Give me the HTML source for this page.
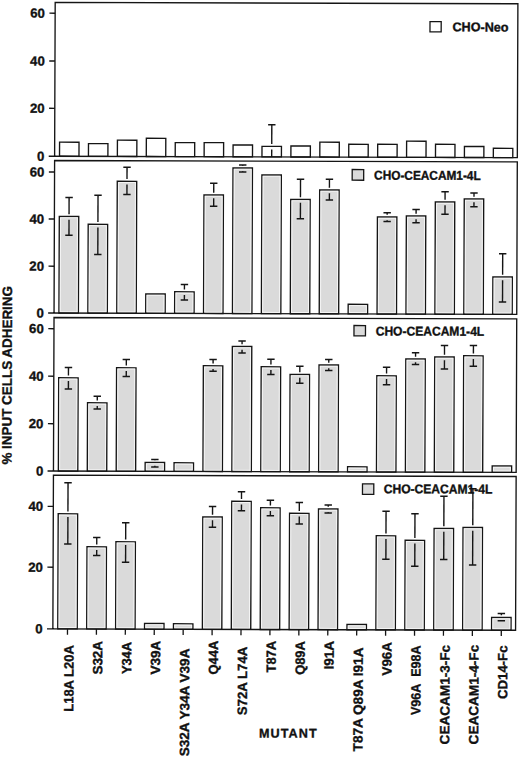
<!DOCTYPE html><html><head><meta charset="utf-8"><style>html,body{margin:0;padding:0;background:#fff;}svg{display:block;}text{font-family:"Liberation Sans",sans-serif;font-weight:bold;fill:#111;stroke:#111;stroke-width:0.35px;}</style></head><body>
<svg width="520" height="758" viewBox="0 0 520 758">
<rect width="520" height="758" fill="#fff"/>
<g transform="matrix(1,0.003,-0.0037,1,0,-0.165)">
<rect x="60.1" y="142.16" width="19.45" height="14.09" fill="#ffffff" stroke="#151515" stroke-width="1.35"/>
<rect x="89.02" y="143.47" width="19.45" height="12.78" fill="#ffffff" stroke="#151515" stroke-width="1.35"/>
<rect x="117.94" y="139.98" width="19.45" height="16.27" fill="#ffffff" stroke="#151515" stroke-width="1.35"/>
<rect x="146.86" y="138" width="19.45" height="18.25" fill="#ffffff" stroke="#151515" stroke-width="1.35"/>
<rect x="175.78" y="142.21" width="19.45" height="14.04" fill="#ffffff" stroke="#151515" stroke-width="1.35"/>
<rect x="204.7" y="142.12" width="19.45" height="14.13" fill="#ffffff" stroke="#151515" stroke-width="1.35"/>
<rect x="233.62" y="144.43" width="19.45" height="11.82" fill="#ffffff" stroke="#151515" stroke-width="1.35"/>
<rect x="262.54" y="145.75" width="19.45" height="10.5" fill="#ffffff" stroke="#151515" stroke-width="1.35"/>
<line x1="272.27" y1="124.15" x2="272.27" y2="143.45" stroke="#151515" stroke-width="1.4"/>
<line x1="272.27" y1="148.95" x2="272.27" y2="156.25" stroke="#151515" stroke-width="1.4"/>
<line x1="268.57" y1="124.15" x2="275.97" y2="124.15" stroke="#151515" stroke-width="1.5"/>
<rect x="291.46" y="145.26" width="19.45" height="10.99" fill="#ffffff" stroke="#151515" stroke-width="1.35"/>
<rect x="320.38" y="141.37" width="19.45" height="14.88" fill="#ffffff" stroke="#151515" stroke-width="1.35"/>
<rect x="349.3" y="143.39" width="19.45" height="12.86" fill="#ffffff" stroke="#151515" stroke-width="1.35"/>
<rect x="378.22" y="143.3" width="19.45" height="12.95" fill="#ffffff" stroke="#151515" stroke-width="1.35"/>
<rect x="407.14" y="140.11" width="19.45" height="16.14" fill="#ffffff" stroke="#151515" stroke-width="1.35"/>
<rect x="436.06" y="143.13" width="19.45" height="13.12" fill="#ffffff" stroke="#151515" stroke-width="1.35"/>
<rect x="464.98" y="145.24" width="19.45" height="11.01" fill="#ffffff" stroke="#151515" stroke-width="1.35"/>
<rect x="493.9" y="146.95" width="19.45" height="9.3" fill="#ffffff" stroke="#151515" stroke-width="1.35"/>
<path d="M49.3 156.25 H517.9 V2.4 H55.2 V156.25" fill="none" stroke="#151515" stroke-width="1.35" stroke-linejoin="miter"/>
<line x1="49.5" y1="13.2" x2="55.2" y2="13.2" stroke="#151515" stroke-width="1.35"/>
<text x="45.0" y="17.7" font-size="13.2" text-anchor="end">60</text>
<line x1="49.5" y1="61" x2="55.2" y2="61" stroke="#151515" stroke-width="1.35"/>
<text x="45.0" y="65.5" font-size="13.2" text-anchor="end">40</text>
<line x1="49.5" y1="108.3" x2="55.2" y2="108.3" stroke="#151515" stroke-width="1.35"/>
<text x="45.0" y="112.8" font-size="13.2" text-anchor="end">20</text>
<text x="45.0" y="160.75" font-size="13.2" text-anchor="end">0</text>
<rect x="430.08" y="20.48" width="11.2" height="10.2" fill="#ffffff" stroke="#151515" stroke-width="1.3"/>
<text x="452.62" y="30.11" font-size="12.7" textLength="56" lengthAdjust="spacingAndGlyphs">CHO-Neo</text>
<rect x="60.1" y="216.46" width="19.45" height="96.54" fill="#dadada" stroke="#151515" stroke-width="1.35"/>
<rect x="61.4" y="217.76" width="16.85" height="93.94" fill="none" stroke="#f4f4f4" stroke-width="1"/>
<line x1="69.83" y1="197.46" x2="69.83" y2="214.16" stroke="#151515" stroke-width="1.4"/>
<line x1="69.83" y1="219.66" x2="69.83" y2="235.26" stroke="#151515" stroke-width="1.4"/>
<line x1="66.12" y1="197.46" x2="73.53" y2="197.46" stroke="#151515" stroke-width="1.5"/>
<line x1="66.12" y1="235.26" x2="73.53" y2="235.26" stroke="#151515" stroke-width="1.5"/>
<rect x="89.02" y="224.17" width="19.45" height="88.83" fill="#dadada" stroke="#151515" stroke-width="1.35"/>
<rect x="90.32" y="225.47" width="16.85" height="86.23" fill="none" stroke="#f4f4f4" stroke-width="1"/>
<line x1="98.75" y1="195.17" x2="98.75" y2="221.87" stroke="#151515" stroke-width="1.4"/>
<line x1="98.75" y1="227.37" x2="98.75" y2="254.37" stroke="#151515" stroke-width="1.4"/>
<line x1="95.05" y1="195.17" x2="102.45" y2="195.17" stroke="#151515" stroke-width="1.5"/>
<line x1="95.05" y1="254.37" x2="102.45" y2="254.37" stroke="#151515" stroke-width="1.5"/>
<rect x="117.94" y="181.08" width="19.45" height="131.92" fill="#dadada" stroke="#151515" stroke-width="1.35"/>
<rect x="119.24" y="182.38" width="16.85" height="129.32" fill="none" stroke="#f4f4f4" stroke-width="1"/>
<line x1="127.66" y1="167.08" x2="127.66" y2="178.78" stroke="#151515" stroke-width="1.4"/>
<line x1="127.66" y1="184.28" x2="127.66" y2="194.28" stroke="#151515" stroke-width="1.4"/>
<line x1="123.96" y1="167.08" x2="131.36" y2="167.08" stroke="#151515" stroke-width="1.5"/>
<line x1="123.96" y1="194.28" x2="131.36" y2="194.28" stroke="#151515" stroke-width="1.5"/>
<rect x="146.86" y="293.7" width="19.45" height="19.3" fill="#dadada" stroke="#151515" stroke-width="1.35"/>
<rect x="148.16" y="295" width="16.85" height="16.7" fill="none" stroke="#f4f4f4" stroke-width="1"/>
<rect x="175.78" y="291.41" width="19.45" height="21.59" fill="#dadada" stroke="#151515" stroke-width="1.35"/>
<rect x="177.08" y="292.71" width="16.85" height="18.99" fill="none" stroke="#f4f4f4" stroke-width="1"/>
<line x1="185.5" y1="284.11" x2="185.5" y2="289.11" stroke="#151515" stroke-width="1.4"/>
<line x1="185.5" y1="294.61" x2="185.5" y2="299.61" stroke="#151515" stroke-width="1.4"/>
<line x1="181.81" y1="284.11" x2="189.2" y2="284.11" stroke="#151515" stroke-width="1.5"/>
<line x1="181.81" y1="299.61" x2="189.2" y2="299.61" stroke="#151515" stroke-width="1.5"/>
<rect x="204.7" y="194.52" width="19.45" height="118.48" fill="#dadada" stroke="#151515" stroke-width="1.35"/>
<rect x="206" y="195.82" width="16.85" height="115.88" fill="none" stroke="#f4f4f4" stroke-width="1"/>
<line x1="214.43" y1="182.82" x2="214.43" y2="192.22" stroke="#151515" stroke-width="1.4"/>
<line x1="214.43" y1="197.72" x2="214.43" y2="205.82" stroke="#151515" stroke-width="1.4"/>
<line x1="210.73" y1="182.82" x2="218.12" y2="182.82" stroke="#151515" stroke-width="1.5"/>
<line x1="210.73" y1="205.82" x2="218.12" y2="205.82" stroke="#151515" stroke-width="1.5"/>
<rect x="233.62" y="167.43" width="19.45" height="145.57" fill="#dadada" stroke="#151515" stroke-width="1.35"/>
<rect x="234.92" y="168.73" width="16.85" height="142.97" fill="none" stroke="#f4f4f4" stroke-width="1"/>
<line x1="243.34" y1="164.43" x2="243.34" y2="165.13" stroke="#151515" stroke-width="1.4"/>
<line x1="243.34" y1="170.63" x2="243.34" y2="171.43" stroke="#151515" stroke-width="1.4"/>
<line x1="239.65" y1="164.43" x2="247.04" y2="164.43" stroke="#151515" stroke-width="1.5"/>
<line x1="239.65" y1="171.43" x2="247.04" y2="171.43" stroke="#151515" stroke-width="1.5"/>
<rect x="262.54" y="174.35" width="19.45" height="138.65" fill="#dadada" stroke="#151515" stroke-width="1.35"/>
<rect x="263.84" y="175.65" width="16.85" height="136.05" fill="none" stroke="#f4f4f4" stroke-width="1"/>
<rect x="291.46" y="198.76" width="19.45" height="114.24" fill="#dadada" stroke="#151515" stroke-width="1.35"/>
<rect x="292.76" y="200.06" width="16.85" height="111.64" fill="none" stroke="#f4f4f4" stroke-width="1"/>
<line x1="301.19" y1="178.56" x2="301.19" y2="196.46" stroke="#151515" stroke-width="1.4"/>
<line x1="301.19" y1="201.96" x2="301.19" y2="218.06" stroke="#151515" stroke-width="1.4"/>
<line x1="297.49" y1="178.56" x2="304.89" y2="178.56" stroke="#151515" stroke-width="1.5"/>
<line x1="297.49" y1="218.06" x2="304.89" y2="218.06" stroke="#151515" stroke-width="1.5"/>
<rect x="320.38" y="189.17" width="19.45" height="123.83" fill="#dadada" stroke="#151515" stroke-width="1.35"/>
<rect x="321.68" y="190.47" width="16.85" height="121.23" fill="none" stroke="#f4f4f4" stroke-width="1"/>
<line x1="330.11" y1="178.47" x2="330.11" y2="186.87" stroke="#151515" stroke-width="1.4"/>
<line x1="330.11" y1="192.37" x2="330.11" y2="199.17" stroke="#151515" stroke-width="1.4"/>
<line x1="326.41" y1="178.47" x2="333.81" y2="178.47" stroke="#151515" stroke-width="1.5"/>
<line x1="326.41" y1="199.17" x2="333.81" y2="199.17" stroke="#151515" stroke-width="1.5"/>
<rect x="349.3" y="303.39" width="19.45" height="9.61" fill="#dadada" stroke="#151515" stroke-width="1.35"/>
<rect x="350.6" y="304.69" width="16.85" height="7.01" fill="none" stroke="#f4f4f4" stroke-width="1"/>
<rect x="378.22" y="216" width="19.45" height="97" fill="#dadada" stroke="#151515" stroke-width="1.35"/>
<rect x="379.52" y="217.3" width="16.85" height="94.4" fill="none" stroke="#f4f4f4" stroke-width="1"/>
<line x1="387.95" y1="211.8" x2="387.95" y2="213.7" stroke="#151515" stroke-width="1.4"/>
<line x1="387.95" y1="219.2" x2="387.95" y2="220.5" stroke="#151515" stroke-width="1.4"/>
<line x1="384.25" y1="211.8" x2="391.65" y2="211.8" stroke="#151515" stroke-width="1.5"/>
<line x1="384.25" y1="220.5" x2="391.65" y2="220.5" stroke="#151515" stroke-width="1.5"/>
<rect x="407.14" y="214.91" width="19.45" height="98.09" fill="#dadada" stroke="#151515" stroke-width="1.35"/>
<rect x="408.44" y="216.21" width="16.85" height="95.49" fill="none" stroke="#f4f4f4" stroke-width="1"/>
<line x1="416.87" y1="208.41" x2="416.87" y2="212.61" stroke="#151515" stroke-width="1.4"/>
<line x1="416.87" y1="218.11" x2="416.87" y2="221.71" stroke="#151515" stroke-width="1.4"/>
<line x1="413.17" y1="208.41" x2="420.57" y2="208.41" stroke="#151515" stroke-width="1.5"/>
<line x1="413.17" y1="221.71" x2="420.57" y2="221.71" stroke="#151515" stroke-width="1.5"/>
<rect x="436.06" y="200.83" width="19.45" height="112.17" fill="#dadada" stroke="#151515" stroke-width="1.35"/>
<rect x="437.36" y="202.13" width="16.85" height="109.57" fill="none" stroke="#f4f4f4" stroke-width="1"/>
<line x1="445.79" y1="190.63" x2="445.79" y2="198.53" stroke="#151515" stroke-width="1.4"/>
<line x1="445.79" y1="204.03" x2="445.79" y2="213.13" stroke="#151515" stroke-width="1.4"/>
<line x1="442.09" y1="190.63" x2="449.49" y2="190.63" stroke="#151515" stroke-width="1.5"/>
<line x1="442.09" y1="213.13" x2="449.49" y2="213.13" stroke="#151515" stroke-width="1.5"/>
<rect x="464.98" y="197.74" width="19.45" height="115.26" fill="#dadada" stroke="#151515" stroke-width="1.35"/>
<rect x="466.28" y="199.04" width="16.85" height="112.66" fill="none" stroke="#f4f4f4" stroke-width="1"/>
<line x1="474.71" y1="191.74" x2="474.71" y2="195.44" stroke="#151515" stroke-width="1.4"/>
<line x1="474.71" y1="200.94" x2="474.71" y2="205.54" stroke="#151515" stroke-width="1.4"/>
<line x1="471.01" y1="191.74" x2="478.41" y2="191.74" stroke="#151515" stroke-width="1.5"/>
<line x1="471.01" y1="205.54" x2="478.41" y2="205.54" stroke="#151515" stroke-width="1.5"/>
<rect x="493.9" y="275.65" width="19.45" height="37.35" fill="#dadada" stroke="#151515" stroke-width="1.35"/>
<rect x="495.2" y="276.95" width="16.85" height="34.75" fill="none" stroke="#f4f4f4" stroke-width="1"/>
<line x1="503.63" y1="252.45" x2="503.63" y2="273.35" stroke="#151515" stroke-width="1.4"/>
<line x1="503.63" y1="278.85" x2="503.63" y2="300.65" stroke="#151515" stroke-width="1.4"/>
<line x1="499.93" y1="252.45" x2="507.33" y2="252.45" stroke="#151515" stroke-width="1.5"/>
<line x1="499.93" y1="300.65" x2="507.33" y2="300.65" stroke="#151515" stroke-width="1.5"/>
<path d="M49.3 313 H517.9 V160.5 H55.2 V313" fill="none" stroke="#151515" stroke-width="1.35" stroke-linejoin="miter"/>
<line x1="49.5" y1="172" x2="55.2" y2="172" stroke="#151515" stroke-width="1.35"/>
<text x="45.0" y="176.5" font-size="13.2" text-anchor="end">60</text>
<line x1="49.5" y1="219" x2="55.2" y2="219" stroke="#151515" stroke-width="1.35"/>
<text x="45.0" y="223.5" font-size="13.2" text-anchor="end">40</text>
<line x1="49.5" y1="266.2" x2="55.2" y2="266.2" stroke="#151515" stroke-width="1.35"/>
<text x="45.0" y="270.7" font-size="13.2" text-anchor="end">20</text>
<text x="45.0" y="317.5" font-size="13.2" text-anchor="end">0</text>
<rect x="352.83" y="168.61" width="11.5" height="10.7" fill="#dadada" stroke="#151515" stroke-width="1.3"/>
<text x="374.76" y="178.64" font-size="12.7" textLength="106.6" lengthAdjust="spacingAndGlyphs">CHO-CEACAM1-4L</text>
<rect x="60.1" y="377.76" width="19.45" height="93.24" fill="#dadada" stroke="#151515" stroke-width="1.35"/>
<rect x="61.4" y="379.06" width="16.85" height="90.64" fill="none" stroke="#f4f4f4" stroke-width="1"/>
<line x1="69.83" y1="367.46" x2="69.83" y2="375.46" stroke="#151515" stroke-width="1.4"/>
<line x1="69.83" y1="380.96" x2="69.83" y2="388.96" stroke="#151515" stroke-width="1.4"/>
<line x1="66.12" y1="367.46" x2="73.53" y2="367.46" stroke="#151515" stroke-width="1.5"/>
<line x1="66.12" y1="388.96" x2="73.53" y2="388.96" stroke="#151515" stroke-width="1.5"/>
<rect x="89.02" y="402.67" width="19.45" height="68.33" fill="#dadada" stroke="#151515" stroke-width="1.35"/>
<rect x="90.32" y="403.97" width="16.85" height="65.73" fill="none" stroke="#f4f4f4" stroke-width="1"/>
<line x1="98.75" y1="396.17" x2="98.75" y2="400.37" stroke="#151515" stroke-width="1.4"/>
<line x1="98.75" y1="405.87" x2="98.75" y2="408.87" stroke="#151515" stroke-width="1.4"/>
<line x1="95.05" y1="396.17" x2="102.45" y2="396.17" stroke="#151515" stroke-width="1.5"/>
<line x1="95.05" y1="408.87" x2="102.45" y2="408.87" stroke="#151515" stroke-width="1.5"/>
<rect x="117.94" y="367.58" width="19.45" height="103.42" fill="#dadada" stroke="#151515" stroke-width="1.35"/>
<rect x="119.24" y="368.88" width="16.85" height="100.82" fill="none" stroke="#f4f4f4" stroke-width="1"/>
<line x1="127.66" y1="359.28" x2="127.66" y2="365.28" stroke="#151515" stroke-width="1.4"/>
<line x1="127.66" y1="370.78" x2="127.66" y2="376.28" stroke="#151515" stroke-width="1.4"/>
<line x1="123.96" y1="359.28" x2="131.36" y2="359.28" stroke="#151515" stroke-width="1.5"/>
<line x1="123.96" y1="376.28" x2="131.36" y2="376.28" stroke="#151515" stroke-width="1.5"/>
<rect x="146.86" y="462.2" width="19.45" height="8.8" fill="#dadada" stroke="#151515" stroke-width="1.35"/>
<rect x="148.16" y="463.5" width="16.85" height="6.2" fill="none" stroke="#f4f4f4" stroke-width="1"/>
<line x1="156.59" y1="459.2" x2="156.59" y2="459.9" stroke="#151515" stroke-width="1.4"/>
<line x1="156.59" y1="465.4" x2="156.59" y2="466.7" stroke="#151515" stroke-width="1.4"/>
<line x1="152.89" y1="459.2" x2="160.28" y2="459.2" stroke="#151515" stroke-width="1.5"/>
<line x1="152.89" y1="466.7" x2="160.28" y2="466.7" stroke="#151515" stroke-width="1.5"/>
<rect x="175.78" y="462.41" width="19.45" height="8.59" fill="#dadada" stroke="#151515" stroke-width="1.35"/>
<rect x="177.08" y="463.71" width="16.85" height="5.99" fill="none" stroke="#f4f4f4" stroke-width="1"/>
<rect x="204.7" y="365.32" width="19.45" height="105.68" fill="#dadada" stroke="#151515" stroke-width="1.35"/>
<rect x="206" y="366.62" width="16.85" height="103.08" fill="none" stroke="#f4f4f4" stroke-width="1"/>
<line x1="214.43" y1="359.02" x2="214.43" y2="363.02" stroke="#151515" stroke-width="1.4"/>
<line x1="214.43" y1="368.52" x2="214.43" y2="370.82" stroke="#151515" stroke-width="1.4"/>
<line x1="210.73" y1="359.02" x2="218.12" y2="359.02" stroke="#151515" stroke-width="1.5"/>
<line x1="210.73" y1="370.82" x2="218.12" y2="370.82" stroke="#151515" stroke-width="1.5"/>
<rect x="233.62" y="345.93" width="19.45" height="125.07" fill="#dadada" stroke="#151515" stroke-width="1.35"/>
<rect x="234.92" y="347.23" width="16.85" height="122.47" fill="none" stroke="#f4f4f4" stroke-width="1"/>
<line x1="243.34" y1="340.43" x2="243.34" y2="343.63" stroke="#151515" stroke-width="1.4"/>
<line x1="243.34" y1="349.13" x2="243.34" y2="352.43" stroke="#151515" stroke-width="1.4"/>
<line x1="239.65" y1="340.43" x2="247.04" y2="340.43" stroke="#151515" stroke-width="1.5"/>
<line x1="239.65" y1="352.43" x2="247.04" y2="352.43" stroke="#151515" stroke-width="1.5"/>
<rect x="262.54" y="366.15" width="19.45" height="104.85" fill="#dadada" stroke="#151515" stroke-width="1.35"/>
<rect x="263.84" y="367.45" width="16.85" height="102.25" fill="none" stroke="#f4f4f4" stroke-width="1"/>
<line x1="272.27" y1="358.65" x2="272.27" y2="363.85" stroke="#151515" stroke-width="1.4"/>
<line x1="272.27" y1="369.35" x2="272.27" y2="373.85" stroke="#151515" stroke-width="1.4"/>
<line x1="268.57" y1="358.65" x2="275.97" y2="358.65" stroke="#151515" stroke-width="1.5"/>
<line x1="268.57" y1="373.85" x2="275.97" y2="373.85" stroke="#151515" stroke-width="1.5"/>
<rect x="291.46" y="373.76" width="19.45" height="97.24" fill="#dadada" stroke="#151515" stroke-width="1.35"/>
<rect x="292.76" y="375.06" width="16.85" height="94.64" fill="none" stroke="#f4f4f4" stroke-width="1"/>
<line x1="301.19" y1="365.56" x2="301.19" y2="371.46" stroke="#151515" stroke-width="1.4"/>
<line x1="301.19" y1="376.96" x2="301.19" y2="382.56" stroke="#151515" stroke-width="1.4"/>
<line x1="297.49" y1="365.56" x2="304.89" y2="365.56" stroke="#151515" stroke-width="1.5"/>
<line x1="297.49" y1="382.56" x2="304.89" y2="382.56" stroke="#151515" stroke-width="1.5"/>
<rect x="320.38" y="364.17" width="19.45" height="106.83" fill="#dadada" stroke="#151515" stroke-width="1.35"/>
<rect x="321.68" y="365.47" width="16.85" height="104.23" fill="none" stroke="#f4f4f4" stroke-width="1"/>
<line x1="330.11" y1="358.67" x2="330.11" y2="361.87" stroke="#151515" stroke-width="1.4"/>
<line x1="330.11" y1="367.37" x2="330.11" y2="369.67" stroke="#151515" stroke-width="1.4"/>
<line x1="326.41" y1="358.67" x2="333.81" y2="358.67" stroke="#151515" stroke-width="1.5"/>
<line x1="326.41" y1="369.67" x2="333.81" y2="369.67" stroke="#151515" stroke-width="1.5"/>
<rect x="349.3" y="465.89" width="19.45" height="5.11" fill="#dadada" stroke="#151515" stroke-width="1.35"/>
<rect x="350.6" y="467.19" width="16.85" height="2.51" fill="none" stroke="#f4f4f4" stroke-width="1"/>
<rect x="378.22" y="374.8" width="19.45" height="96.2" fill="#dadada" stroke="#151515" stroke-width="1.35"/>
<rect x="379.52" y="376.1" width="16.85" height="93.6" fill="none" stroke="#f4f4f4" stroke-width="1"/>
<line x1="387.95" y1="366.3" x2="387.95" y2="372.5" stroke="#151515" stroke-width="1.4"/>
<line x1="387.95" y1="378" x2="387.95" y2="383.8" stroke="#151515" stroke-width="1.4"/>
<line x1="384.25" y1="366.3" x2="391.65" y2="366.3" stroke="#151515" stroke-width="1.5"/>
<line x1="384.25" y1="383.8" x2="391.65" y2="383.8" stroke="#151515" stroke-width="1.5"/>
<rect x="407.14" y="357.91" width="19.45" height="113.09" fill="#dadada" stroke="#151515" stroke-width="1.35"/>
<rect x="408.44" y="359.21" width="16.85" height="110.49" fill="none" stroke="#f4f4f4" stroke-width="1"/>
<line x1="416.87" y1="351.71" x2="416.87" y2="355.61" stroke="#151515" stroke-width="1.4"/>
<line x1="416.87" y1="361.11" x2="416.87" y2="363.41" stroke="#151515" stroke-width="1.4"/>
<line x1="413.17" y1="351.71" x2="420.57" y2="351.71" stroke="#151515" stroke-width="1.5"/>
<line x1="413.17" y1="363.41" x2="420.57" y2="363.41" stroke="#151515" stroke-width="1.5"/>
<rect x="436.06" y="355.83" width="19.45" height="115.17" fill="#dadada" stroke="#151515" stroke-width="1.35"/>
<rect x="437.36" y="357.13" width="16.85" height="112.57" fill="none" stroke="#f4f4f4" stroke-width="1"/>
<line x1="445.79" y1="344.33" x2="445.79" y2="353.53" stroke="#151515" stroke-width="1.4"/>
<line x1="445.79" y1="359.03" x2="445.79" y2="367.83" stroke="#151515" stroke-width="1.4"/>
<line x1="442.09" y1="344.33" x2="449.49" y2="344.33" stroke="#151515" stroke-width="1.5"/>
<line x1="442.09" y1="367.83" x2="449.49" y2="367.83" stroke="#151515" stroke-width="1.5"/>
<rect x="464.98" y="354.54" width="19.45" height="116.46" fill="#dadada" stroke="#151515" stroke-width="1.35"/>
<rect x="466.28" y="355.84" width="16.85" height="113.86" fill="none" stroke="#f4f4f4" stroke-width="1"/>
<line x1="474.71" y1="344.24" x2="474.71" y2="352.24" stroke="#151515" stroke-width="1.4"/>
<line x1="474.71" y1="357.74" x2="474.71" y2="365.04" stroke="#151515" stroke-width="1.4"/>
<line x1="471.01" y1="344.24" x2="478.41" y2="344.24" stroke="#151515" stroke-width="1.5"/>
<line x1="471.01" y1="365.04" x2="478.41" y2="365.04" stroke="#151515" stroke-width="1.5"/>
<rect x="493.9" y="464.65" width="19.45" height="6.35" fill="#dadada" stroke="#151515" stroke-width="1.35"/>
<rect x="495.2" y="465.95" width="16.85" height="3.75" fill="none" stroke="#f4f4f4" stroke-width="1"/>
<path d="M49.3 471 H517.9 V317.5 H55.2 V471" fill="none" stroke="#151515" stroke-width="1.35" stroke-linejoin="miter"/>
<line x1="49.5" y1="328.7" x2="55.2" y2="328.7" stroke="#151515" stroke-width="1.35"/>
<text x="45.0" y="333.2" font-size="13.2" text-anchor="end">60</text>
<line x1="49.5" y1="376.2" x2="55.2" y2="376.2" stroke="#151515" stroke-width="1.35"/>
<text x="45.0" y="380.7" font-size="13.2" text-anchor="end">40</text>
<line x1="49.5" y1="423.7" x2="55.2" y2="423.7" stroke="#151515" stroke-width="1.35"/>
<text x="45.0" y="428.2" font-size="13.2" text-anchor="end">20</text>
<text x="45.0" y="475.5" font-size="13.2" text-anchor="end">0</text>
<rect x="355.2" y="324.6" width="11.5" height="10.3" fill="#dadada" stroke="#151515" stroke-width="1.3"/>
<text x="376.94" y="334.44" font-size="12.7" textLength="108.5" lengthAdjust="spacingAndGlyphs">CHO-CEACAM1-4L</text>
<rect x="60.1" y="513.76" width="19.45" height="115.09" fill="#dadada" stroke="#151515" stroke-width="1.35"/>
<rect x="61.4" y="515.06" width="16.85" height="112.49" fill="none" stroke="#f4f4f4" stroke-width="1"/>
<line x1="69.83" y1="482.76" x2="69.83" y2="511.46" stroke="#151515" stroke-width="1.4"/>
<line x1="69.83" y1="516.96" x2="69.83" y2="543.96" stroke="#151515" stroke-width="1.4"/>
<line x1="66.12" y1="482.76" x2="73.53" y2="482.76" stroke="#151515" stroke-width="1.5"/>
<line x1="66.12" y1="543.96" x2="73.53" y2="543.96" stroke="#151515" stroke-width="1.5"/>
<rect x="89.02" y="546.67" width="19.45" height="82.18" fill="#dadada" stroke="#151515" stroke-width="1.35"/>
<rect x="90.32" y="547.97" width="16.85" height="79.58" fill="none" stroke="#f4f4f4" stroke-width="1"/>
<line x1="98.75" y1="537.37" x2="98.75" y2="544.37" stroke="#151515" stroke-width="1.4"/>
<line x1="98.75" y1="549.87" x2="98.75" y2="555.37" stroke="#151515" stroke-width="1.4"/>
<line x1="95.05" y1="537.37" x2="102.45" y2="537.37" stroke="#151515" stroke-width="1.5"/>
<line x1="95.05" y1="555.37" x2="102.45" y2="555.37" stroke="#151515" stroke-width="1.5"/>
<rect x="117.94" y="541.58" width="19.45" height="87.27" fill="#dadada" stroke="#151515" stroke-width="1.35"/>
<rect x="119.24" y="542.88" width="16.85" height="84.67" fill="none" stroke="#f4f4f4" stroke-width="1"/>
<line x1="127.66" y1="522.58" x2="127.66" y2="539.28" stroke="#151515" stroke-width="1.4"/>
<line x1="127.66" y1="544.78" x2="127.66" y2="562.08" stroke="#151515" stroke-width="1.4"/>
<line x1="123.96" y1="522.58" x2="131.36" y2="522.58" stroke="#151515" stroke-width="1.5"/>
<line x1="123.96" y1="562.08" x2="131.36" y2="562.08" stroke="#151515" stroke-width="1.5"/>
<rect x="146.86" y="623.2" width="19.45" height="5.65" fill="#dadada" stroke="#151515" stroke-width="1.35"/>
<rect x="148.16" y="624.5" width="16.85" height="3.05" fill="none" stroke="#f4f4f4" stroke-width="1"/>
<rect x="175.78" y="623.41" width="19.45" height="5.44" fill="#dadada" stroke="#151515" stroke-width="1.35"/>
<rect x="177.08" y="624.71" width="16.85" height="2.84" fill="none" stroke="#f4f4f4" stroke-width="1"/>
<rect x="204.7" y="516.52" width="19.45" height="112.33" fill="#dadada" stroke="#151515" stroke-width="1.35"/>
<rect x="206" y="517.82" width="16.85" height="109.73" fill="none" stroke="#f4f4f4" stroke-width="1"/>
<line x1="214.43" y1="506.02" x2="214.43" y2="514.22" stroke="#151515" stroke-width="1.4"/>
<line x1="214.43" y1="519.72" x2="214.43" y2="526.82" stroke="#151515" stroke-width="1.4"/>
<line x1="210.73" y1="506.02" x2="218.12" y2="506.02" stroke="#151515" stroke-width="1.5"/>
<line x1="210.73" y1="526.82" x2="218.12" y2="526.82" stroke="#151515" stroke-width="1.5"/>
<rect x="233.62" y="500.73" width="19.45" height="128.12" fill="#dadada" stroke="#151515" stroke-width="1.35"/>
<rect x="234.92" y="502.03" width="16.85" height="125.52" fill="none" stroke="#f4f4f4" stroke-width="1"/>
<line x1="243.34" y1="491.23" x2="243.34" y2="498.43" stroke="#151515" stroke-width="1.4"/>
<line x1="243.34" y1="503.93" x2="243.34" y2="510.23" stroke="#151515" stroke-width="1.4"/>
<line x1="239.65" y1="491.23" x2="247.04" y2="491.23" stroke="#151515" stroke-width="1.5"/>
<line x1="239.65" y1="510.23" x2="247.04" y2="510.23" stroke="#151515" stroke-width="1.5"/>
<rect x="262.54" y="507.15" width="19.45" height="121.7" fill="#dadada" stroke="#151515" stroke-width="1.35"/>
<rect x="263.84" y="508.45" width="16.85" height="119.1" fill="none" stroke="#f4f4f4" stroke-width="1"/>
<line x1="272.27" y1="499.65" x2="272.27" y2="504.85" stroke="#151515" stroke-width="1.4"/>
<line x1="272.27" y1="510.35" x2="272.27" y2="515.15" stroke="#151515" stroke-width="1.4"/>
<line x1="268.57" y1="499.65" x2="275.97" y2="499.65" stroke="#151515" stroke-width="1.5"/>
<line x1="268.57" y1="515.15" x2="275.97" y2="515.15" stroke="#151515" stroke-width="1.5"/>
<rect x="291.46" y="512.56" width="19.45" height="116.29" fill="#dadada" stroke="#151515" stroke-width="1.35"/>
<rect x="292.76" y="513.86" width="16.85" height="113.69" fill="none" stroke="#f4f4f4" stroke-width="1"/>
<line x1="301.19" y1="501.76" x2="301.19" y2="510.26" stroke="#151515" stroke-width="1.4"/>
<line x1="301.19" y1="515.76" x2="301.19" y2="523.26" stroke="#151515" stroke-width="1.4"/>
<line x1="297.49" y1="501.76" x2="304.89" y2="501.76" stroke="#151515" stroke-width="1.5"/>
<line x1="297.49" y1="523.26" x2="304.89" y2="523.26" stroke="#151515" stroke-width="1.5"/>
<rect x="320.38" y="508.17" width="19.45" height="120.68" fill="#dadada" stroke="#151515" stroke-width="1.35"/>
<rect x="321.68" y="509.47" width="16.85" height="118.08" fill="none" stroke="#f4f4f4" stroke-width="1"/>
<line x1="330.11" y1="504.17" x2="330.11" y2="505.87" stroke="#151515" stroke-width="1.4"/>
<line x1="330.11" y1="511.37" x2="330.11" y2="512.17" stroke="#151515" stroke-width="1.4"/>
<line x1="326.41" y1="504.17" x2="333.81" y2="504.17" stroke="#151515" stroke-width="1.5"/>
<line x1="326.41" y1="512.17" x2="333.81" y2="512.17" stroke="#151515" stroke-width="1.5"/>
<rect x="349.3" y="623.59" width="19.45" height="5.26" fill="#dadada" stroke="#151515" stroke-width="1.35"/>
<rect x="350.6" y="624.89" width="16.85" height="2.66" fill="none" stroke="#f4f4f4" stroke-width="1"/>
<rect x="378.22" y="534.8" width="19.45" height="94.05" fill="#dadada" stroke="#151515" stroke-width="1.35"/>
<rect x="379.52" y="536.1" width="16.85" height="91.45" fill="none" stroke="#f4f4f4" stroke-width="1"/>
<line x1="387.95" y1="510.3" x2="387.95" y2="532.5" stroke="#151515" stroke-width="1.4"/>
<line x1="387.95" y1="538" x2="387.95" y2="558.3" stroke="#151515" stroke-width="1.4"/>
<line x1="384.25" y1="510.3" x2="391.65" y2="510.3" stroke="#151515" stroke-width="1.5"/>
<line x1="384.25" y1="558.3" x2="391.65" y2="558.3" stroke="#151515" stroke-width="1.5"/>
<rect x="407.14" y="539.21" width="19.45" height="89.64" fill="#dadada" stroke="#151515" stroke-width="1.35"/>
<rect x="408.44" y="540.51" width="16.85" height="87.04" fill="none" stroke="#f4f4f4" stroke-width="1"/>
<line x1="416.87" y1="512.71" x2="416.87" y2="536.91" stroke="#151515" stroke-width="1.4"/>
<line x1="416.87" y1="542.41" x2="416.87" y2="565.21" stroke="#151515" stroke-width="1.4"/>
<line x1="413.17" y1="512.71" x2="420.57" y2="512.71" stroke="#151515" stroke-width="1.5"/>
<line x1="413.17" y1="565.21" x2="420.57" y2="565.21" stroke="#151515" stroke-width="1.5"/>
<rect x="436.06" y="527.33" width="19.45" height="101.52" fill="#dadada" stroke="#151515" stroke-width="1.35"/>
<rect x="437.36" y="528.63" width="16.85" height="98.92" fill="none" stroke="#f4f4f4" stroke-width="1"/>
<line x1="445.79" y1="495.13" x2="445.79" y2="525.03" stroke="#151515" stroke-width="1.4"/>
<line x1="445.79" y1="530.53" x2="445.79" y2="558.33" stroke="#151515" stroke-width="1.4"/>
<line x1="442.09" y1="495.13" x2="449.49" y2="495.13" stroke="#151515" stroke-width="1.5"/>
<line x1="442.09" y1="558.33" x2="449.49" y2="558.33" stroke="#151515" stroke-width="1.5"/>
<rect x="464.98" y="526.24" width="19.45" height="102.61" fill="#dadada" stroke="#151515" stroke-width="1.35"/>
<rect x="466.28" y="527.54" width="16.85" height="100.01" fill="none" stroke="#f4f4f4" stroke-width="1"/>
<line x1="474.71" y1="487.54" x2="474.71" y2="523.94" stroke="#151515" stroke-width="1.4"/>
<line x1="474.71" y1="529.44" x2="474.71" y2="563.74" stroke="#151515" stroke-width="1.4"/>
<line x1="471.01" y1="487.54" x2="478.41" y2="487.54" stroke="#151515" stroke-width="1.5"/>
<line x1="471.01" y1="563.74" x2="478.41" y2="563.74" stroke="#151515" stroke-width="1.5"/>
<rect x="493.9" y="616.15" width="19.45" height="12.7" fill="#dadada" stroke="#151515" stroke-width="1.35"/>
<rect x="495.2" y="617.45" width="16.85" height="10.1" fill="none" stroke="#f4f4f4" stroke-width="1"/>
<line x1="503.63" y1="612.25" x2="503.63" y2="613.85" stroke="#151515" stroke-width="1.4"/>
<line x1="503.63" y1="619.35" x2="503.63" y2="619.45" stroke="#151515" stroke-width="1.4"/>
<line x1="499.93" y1="612.25" x2="507.33" y2="612.25" stroke="#151515" stroke-width="1.5"/>
<line x1="499.93" y1="619.45" x2="507.33" y2="619.45" stroke="#151515" stroke-width="1.5"/>
<path d="M49.3 628.85 H517.9 V475.1 H55.2 V628.85" fill="none" stroke="#151515" stroke-width="1.35" stroke-linejoin="miter"/>
<line x1="49.5" y1="506.4" x2="55.2" y2="506.4" stroke="#151515" stroke-width="1.35"/>
<text x="45.0" y="510.9" font-size="13.2" text-anchor="end">40</text>
<line x1="49.5" y1="567.2" x2="55.2" y2="567.2" stroke="#151515" stroke-width="1.35"/>
<text x="45.0" y="571.7" font-size="13.2" text-anchor="end">20</text>
<text x="45.0" y="633.35" font-size="13.2" text-anchor="end">0</text>
<rect x="364.29" y="482.88" width="11.3" height="10.5" fill="#dadada" stroke="#151515" stroke-width="1.3"/>
<text x="385.52" y="492.21" font-size="12.7" textLength="108.7" lengthAdjust="spacingAndGlyphs">CHO-CEACAM1-4L</text>
<line x1="69.83" y1="628.85" x2="69.83" y2="634.65" stroke="#151515" stroke-width="1.3"/>
<line x1="98.75" y1="628.85" x2="98.75" y2="634.65" stroke="#151515" stroke-width="1.3"/>
<line x1="127.66" y1="628.85" x2="127.66" y2="634.65" stroke="#151515" stroke-width="1.3"/>
<line x1="156.59" y1="628.85" x2="156.59" y2="634.65" stroke="#151515" stroke-width="1.3"/>
<line x1="185.5" y1="628.85" x2="185.5" y2="634.65" stroke="#151515" stroke-width="1.3"/>
<line x1="214.43" y1="628.85" x2="214.43" y2="634.65" stroke="#151515" stroke-width="1.3"/>
<line x1="243.34" y1="628.85" x2="243.34" y2="634.65" stroke="#151515" stroke-width="1.3"/>
<line x1="272.27" y1="628.85" x2="272.27" y2="634.65" stroke="#151515" stroke-width="1.3"/>
<line x1="301.19" y1="628.85" x2="301.19" y2="634.65" stroke="#151515" stroke-width="1.3"/>
<line x1="330.11" y1="628.85" x2="330.11" y2="634.65" stroke="#151515" stroke-width="1.3"/>
<line x1="359.03" y1="628.85" x2="359.03" y2="634.65" stroke="#151515" stroke-width="1.3"/>
<line x1="387.95" y1="628.85" x2="387.95" y2="634.65" stroke="#151515" stroke-width="1.3"/>
<line x1="416.87" y1="628.85" x2="416.87" y2="634.65" stroke="#151515" stroke-width="1.3"/>
<line x1="445.79" y1="628.85" x2="445.79" y2="634.65" stroke="#151515" stroke-width="1.3"/>
<line x1="474.71" y1="628.85" x2="474.71" y2="634.65" stroke="#151515" stroke-width="1.3"/>
<line x1="503.63" y1="628.85" x2="503.63" y2="634.65" stroke="#151515" stroke-width="1.3"/>
<text transform="translate(75.96,711.65) rotate(-90)" x="0" y="0" font-size="13.4" textLength="66.5" lengthAdjust="spacingAndGlyphs">L18A L20A</text>
<text transform="translate(104.74,674.46) rotate(-90)" x="0" y="0" font-size="13.4" textLength="33.7" lengthAdjust="spacingAndGlyphs">S32A</text>
<text transform="translate(133.66,673.87) rotate(-90)" x="0" y="0" font-size="13.4" textLength="32.1" lengthAdjust="spacingAndGlyphs">Y34A</text>
<text transform="translate(162.58,674.08) rotate(-90)" x="0" y="0" font-size="13.4" textLength="33.6" lengthAdjust="spacingAndGlyphs">V39A</text>
<text transform="translate(191.8,755.8) rotate(-90)" x="0" y="0" font-size="13.4" textLength="107.6" lengthAdjust="spacingAndGlyphs">S32A Y34A V39A</text>
<text transform="translate(220.42,673.91) rotate(-90)" x="0" y="0" font-size="13.4" textLength="33.6" lengthAdjust="spacingAndGlyphs">Q44A</text>
<text transform="translate(249.49,714.62) rotate(-90)" x="0" y="0" font-size="13.4" textLength="68.5" lengthAdjust="spacingAndGlyphs">S72A L74A</text>
<text transform="translate(278.25,671.84) rotate(-90)" x="0" y="0" font-size="13.4" textLength="31.7" lengthAdjust="spacingAndGlyphs">T87A</text>
<text transform="translate(307.18,674.05) rotate(-90)" x="0" y="0" font-size="13.4" textLength="33.5" lengthAdjust="spacingAndGlyphs">Q89A</text>
<text transform="translate(336.08,668.76) rotate(-90)" x="0" y="0" font-size="13.4" textLength="28.8" lengthAdjust="spacingAndGlyphs">I91A</text>
<text transform="translate(365.31,750.48) rotate(-90)" x="0" y="0" font-size="13.4" textLength="103.9" lengthAdjust="spacingAndGlyphs">T87A Q89A I91A</text>
<text transform="translate(393.94,674.39) rotate(-90)" x="0" y="0" font-size="13.4" textLength="33.1" lengthAdjust="spacingAndGlyphs">V96A</text>
<text transform="translate(423.01,714) rotate(-90)" x="0" y="0" font-size="13.4" textLength="69.6" lengthAdjust="spacingAndGlyphs">V96A  E98A</text>
<text transform="translate(452.04,743.22) rotate(-90)" x="0" y="0" font-size="13.4" textLength="99.6" lengthAdjust="spacingAndGlyphs">CEACAM1-3-Fc</text>
<text transform="translate(480.96,743.13) rotate(-90)" x="0" y="0" font-size="13.4" textLength="99.6" lengthAdjust="spacingAndGlyphs">CEACAM1-4-Fc</text>
<text transform="translate(509.71,697.64) rotate(-90)" x="0" y="0" font-size="13.4" textLength="53.5" lengthAdjust="spacingAndGlyphs">CD14-Fc</text>
<text x="261.73" y="736.79" font-size="12.6" textLength="57.6" lengthAdjust="spacing">MUTANT</text>
<text transform="translate(13.12,464.73) rotate(-90)" x="0" y="0" font-size="13.6" textLength="178.6" lengthAdjust="spacingAndGlyphs">% INPUT CELLS ADHERING</text>
</g></svg></body></html>
